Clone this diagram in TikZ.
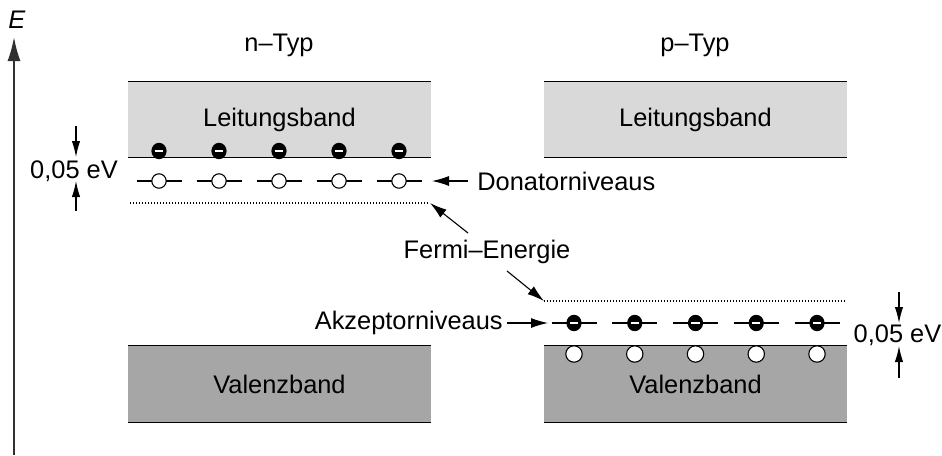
\documentclass[tikz,border=0pt]{standalone}
\usepackage{fontspec}
\setmainfont{Liberation Sans}
\usetikzlibrary{arrows.meta,calc,shapes.geometric}
\definecolor{cband}{HTML}{D9D9D9}
\definecolor{vband}{HTML}{A6A6A6}
\definecolor{axisgray}{HTML}{303030}
\begin{document}
\begin{tikzpicture}[x=0.5pt,y=-0.5pt,
  every node/.style={font=\fontsize{12.7}{15}\selectfont, inner sep=0pt},
  arr/.style={-{Latex[length=8.5pt,width=5pt]}, line width=0.55pt},
  varr/.style={-{Latex[length=8pt,width=4.2pt]}, line width=0.55pt},
  axisarr/.style={-{Latex[length=12pt,width=6.5pt]}, line width=1pt, draw=axisgray, fill=black},
  band/.style={minimum width=151.5pt, minimum height=37.5pt},
  edge/.style={line width=0.75pt},
  fermi/.style={line width=0.55pt, dash pattern=on 0.5pt off 1pt},
  level/.style={line width=0.6pt},
  elec/.style={ellipse, fill=black, minimum width=7.6pt, minimum height=8.2pt, inner sep=0pt},
  donor/.style={circle, draw, fill=white, minimum size=7.2pt, line width=0.55pt},
  hole/.style={circle, draw, fill=white, minimum size=8.2pt, line width=0.55pt},
]
\useasboundingbox (0,0) rectangle (942,455);

% energy axis
\coordinate (a0) at (14,455);
\coordinate (a1) at (14,37);
\draw[axisarr] (a0) -- (a1);
\node (E) at (17,20) {\textit{E}};

% titles
\node (ntyp) at (279,45) {n–Typ};
\node (ptyp) at (695,45) {p–Typ};

% bands
\node[band, fill=cband] (lcl) at (279.5,119.5) {Leitungsband};
\node[band, fill=cband] (lcr) at (695.5,119.5) {Leitungsband};
\node[band, fill=vband, minimum height=38pt] (vbl) at (279.5,384) {Valenzband};
\node[band, fill=vband, minimum height=38pt] (vbr) at (695.5,384) {Valenzband};
\foreach \b in {lcl,lcr,vbl,vbr}{
  \draw[edge] (\b.north west) -- (\b.north east);
  \draw[edge] (\b.south west) -- (\b.south east);
}

% n-type: conduction electrons and donor levels
\foreach \i/\x in {1/159,2/219,3/279,4/339,5/399}{
  \draw[level] (\x-22.5,181) -- (\x+22.5,181);
  \node[donor] (d\i) at (\x,181) {};
  \node[elec] (ce\i) at (\x,151) {\textcolor{white}{\rule{4.2pt}{1.1pt}}};
}

% p-type: acceptor levels and holes
\foreach \i/\x in {1/574,2/634.75,3/695.5,4/756.25,5/817}{
  \draw[level] (\x-22.5,323) -- (\x+22.5,323);
  \node[elec] (ae\i) at (\x,323) {\textcolor{white}{\rule{4.2pt}{1.1pt}}};
  \node[hole] (h\i) at (\x,354) {};
}

% Fermi levels
\coordinate (fls) at (130,203);
\coordinate (fle) at (430,203);
\coordinate (frs) at (544,301);
\coordinate (fre) at (845,301);
\draw[fermi] (fls) -- (fle);
\draw[fermi] (frs) -- (fre);

\node (fermi) at (487,252) {Fermi–Energie};
\coordinate (f1) at (468,233);
\coordinate (f2) at (507,271);
\draw[arr] (f1) -- (fle);
\draw[arr] (f2) -- (frs);

% labels for levels
\node[anchor=west] (don) at (477,181) {Donatorniveaus};
\coordinate (dtip) at (432,181);
\draw[arr] ($(don.west)+(-9,0)$) -- (dtip);

\node[anchor=east] (akz) at (503,323) {Akzeptorniveaus};
\coordinate (atip) at (548,323);
\draw[arr] ($(akz.east)+(4,0)$) -- (atip);

% 0,05 eV markers
\node (gl) at (74,171) {0,05 eV};
\coordinate (gl1) at (76,126);
\coordinate (gl2) at (76,157);
\coordinate (gl3) at (76,211);
\coordinate (gl4) at (76,181);
\draw[varr] (gl1) -- (gl2);
\draw[varr] (gl3) -- (gl4);

\node (gr) at (897.5,335) {0,05 eV};
\coordinate (gr1) at (899,292);
\coordinate (gr2) at (899,323);
\coordinate (gr3) at (899,378);
\coordinate (gr4) at (899,346);
\draw[varr] (gr1) -- (gr2);
\draw[varr] (gr3) -- (gr4);
\end{tikzpicture}
\end{document}
